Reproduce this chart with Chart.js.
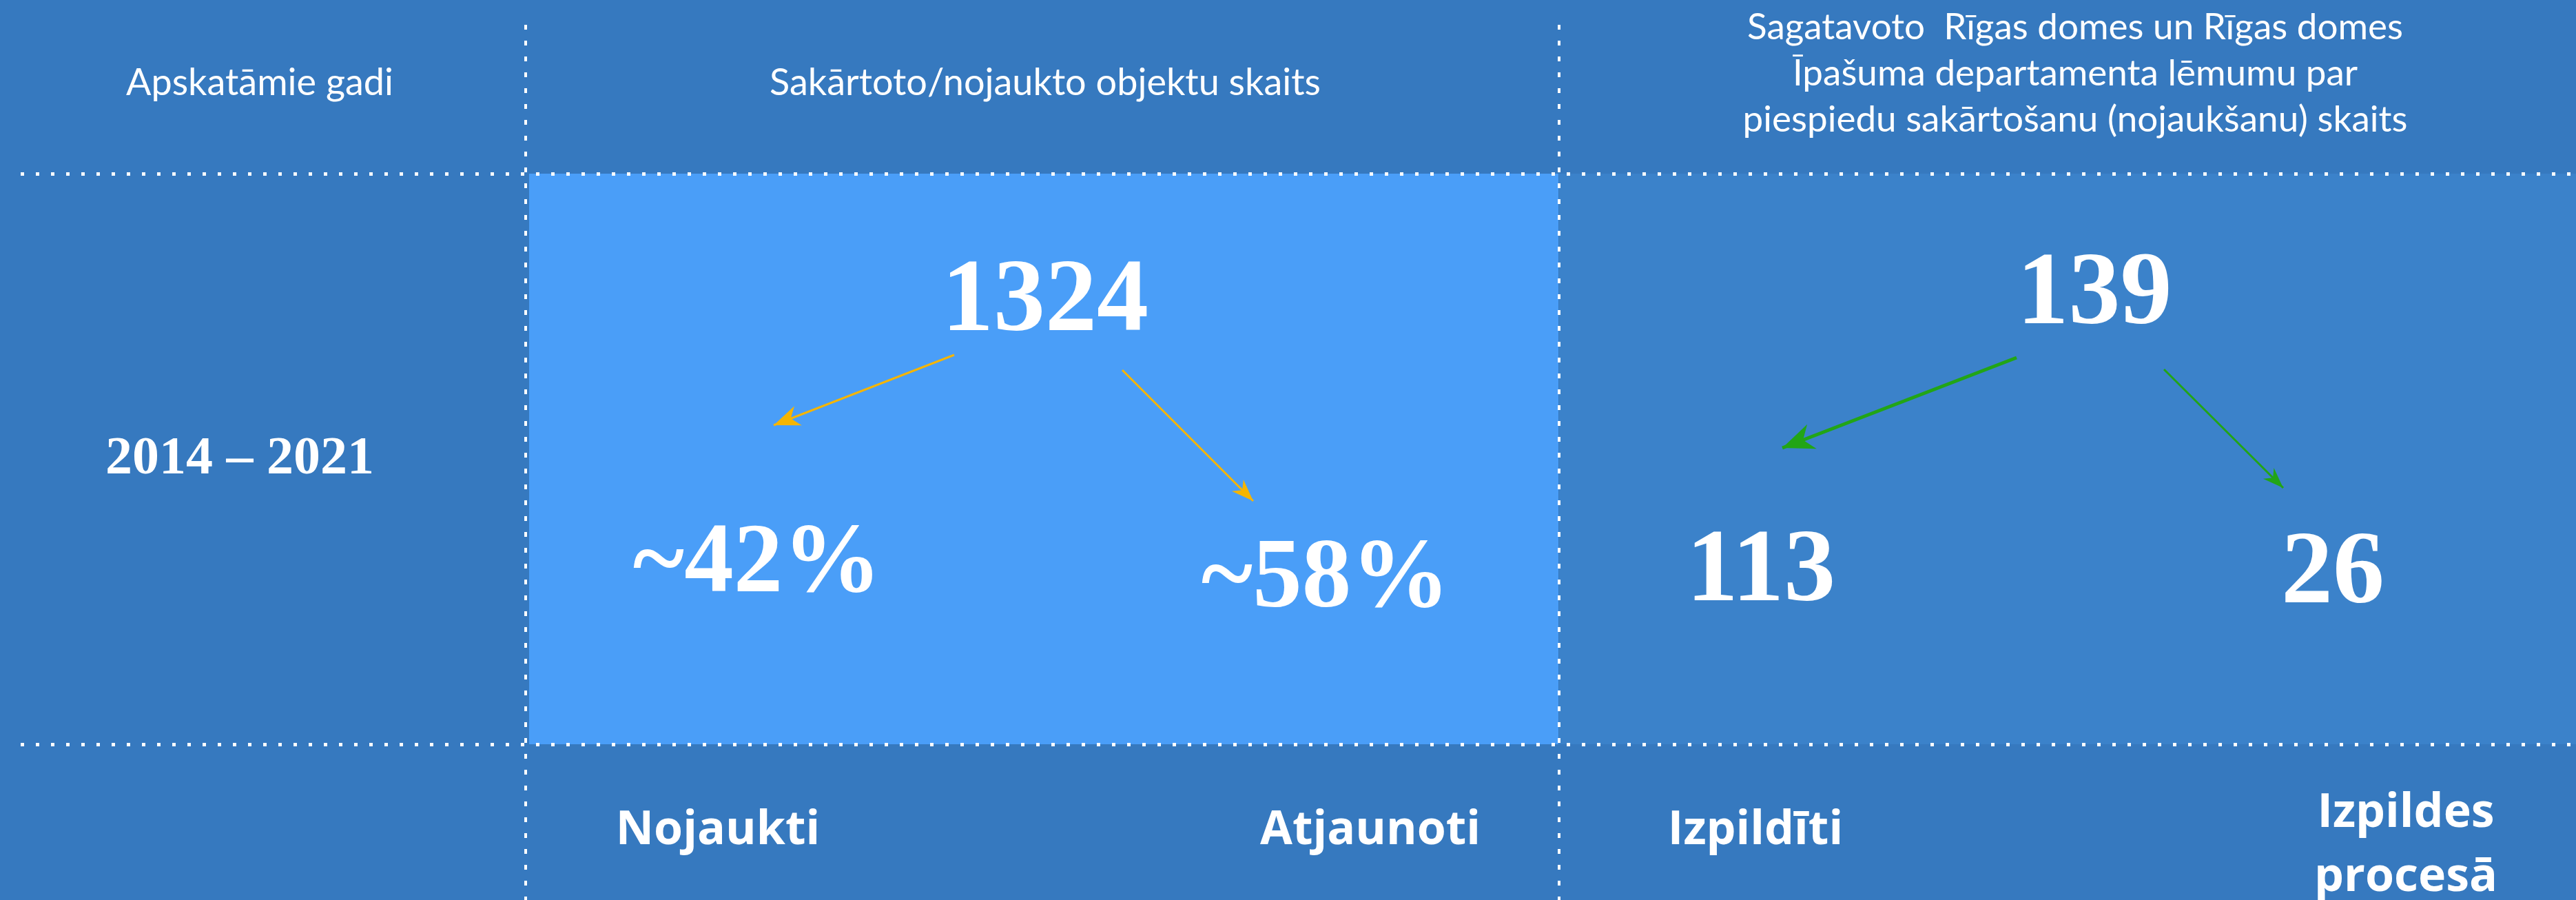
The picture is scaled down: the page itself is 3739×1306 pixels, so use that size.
<!DOCTYPE html>
<html>
<head>
<meta charset="utf-8">
<script src="https://cdn.jsdelivr.net/npm/chart.js@4.4.1/dist/chart.umd.min.js"></script>
<style>
    html, body { margin: 0; padding: 0; background: #3679BF; }
    canvas { display: block; }
</style>
</head>
<body>
<canvas id="infoChart" width="3739" height="1306"></canvas>
<script>
const headers = ['Apskatāmie gadi', 'Sakārtoto/nojaukto objektu skaits'];
const decisionHeader = [
    'Sagatavoto  Rīgas domes un Rīgas domes',
    'Īpašuma departamenta lēmumu par',
    'piespiedu sakārtošanu (nojaukšanu) skaits'
];
const period = '2014 – 2021';
const totals = [1324, 139];
const objectShares = [42, 58];
const decisionSplit = [113, 26];
const outcomeLabels = [['Nojaukti'], ['Atjaunoti'], ['Izpildīti'], ['Izpildes', 'procesā']];

// Layout (page units = pixels of the 3739x1306 picture)
const W = 3739, H = 1306;
const colDividers = [763, 2263];
const rowDividers = [252, 1080];
const headerPos = [[377, 138], [1517, 138]];
const decisionHeaderPos = [[3012, 57], [3012, 124], [3012, 191]];
const periodPos = [[348, 687]];
const totalPos = [[1517, 479], [3040, 469]];
const sharePos = [[1099, 858], [1924, 880]];
const splitPos = [[2556, 871], [3386, 874]];
const outcomePos = [[1042, 1225], [1989, 1225], [2548, 1225], [3492, 1200]];
const yellowArrows = [[1385, 515, 1123, 617], [1629, 537, 1819, 727]];
const greenArrows = [[2927, 519, 2587, 650], [3141, 536, 3314, 708]];

const sansFont = 'Lato, "Open Sans", sans-serif';
const boldSans = '"Open Sans", Lato, sans-serif';
const serifFont = '"Liberation Serif", "DejaVu Serif", serif';

function textSet(texts, pos, font, lineHeight) {
    return {
        type: 'scatter',
        data: pos.map(p => ({ x: p[0], y: p[1] })),
        texts: texts,
        textFont: font,
        lineHeight: lineHeight || 0,
        pointRadius: 0,
        isText: true
    };
}

function arrowSet(arrow, color, width, headLen, headWidth) {
    return {
        type: 'scatter',
        showLine: true,
        data: [{ x: arrow[0], y: arrow[1] }, { x: arrow[2], y: arrow[3] }],
        borderColor: color,
        backgroundColor: color,
        borderWidth: width,
        pointRadius: 0,
        headLen: headLen,
        headWidth: headWidth,
        isArrow: true
    };
}

const datasets = [
    arrowSet(yellowArrows[0], '#F6B500', 3, 38, 30),
    arrowSet(yellowArrows[1], '#F6B500', 3, 32, 24),
    arrowSet(greenArrows[0], '#22A516', 5, 46, 38),
    arrowSet(greenArrows[1], '#22A516', 3, 30, 22),
    textSet(headers.map(t => [t]), headerPos, '400 54px ' + sansFont),
    textSet(decisionHeader.map(t => [t]), decisionHeaderPos, '400 53px ' + sansFont),
    textSet([[period]], periodPos, 'bold 78px ' + serifFont),
    textSet(totals.map(v => [String(v)]), totalPos, 'bold 150px ' + serifFont),
    textSet(objectShares.map(v => ['~' + v + '%']), sharePos, 'bold 143px ' + serifFont),
    textSet(decisionSplit.map(v => [String(v)]), splitPos, 'bold 150px ' + serifFont),
    textSet(outcomeLabels, outcomePos, '700 68px ' + boldSans, 93)
];

const infoPlugin = {
    id: 'infoPlugin',
    beforeDraw(chart) {
        const ctx = chart.ctx;
        const x = chart.scales.x, y = chart.scales.y;
        ctx.save();
        ctx.fillStyle = '#3679BF';
        ctx.fillRect(0, 0, chart.width, chart.height);
        // right cell of the middle row
        ctx.fillStyle = '#3B82CA';
        ctx.fillRect(x.getPixelForValue(colDividers[1]), y.getPixelForValue(rowDividers[0]),
            x.getPixelForValue(W) - x.getPixelForValue(colDividers[1]),
            y.getPixelForValue(rowDividers[1]) - y.getPixelForValue(rowDividers[0]));
        // highlighted cell
        ctx.fillStyle = '#4A9EF8';
        ctx.fillRect(x.getPixelForValue(colDividers[0] + 5), y.getPixelForValue(rowDividers[0]),
            x.getPixelForValue(colDividers[1] - 1) - x.getPixelForValue(colDividers[0] + 5),
            y.getPixelForValue(rowDividers[1]) - y.getPixelForValue(rowDividers[0]));
        ctx.restore();
    },
    afterDatasetsDraw(chart) {
        const ctx = chart.ctx;
        ctx.save();
        chart.data.datasets.forEach((ds, i) => {
            const meta = chart.getDatasetMeta(i);
            if (ds.isArrow) {
                const a = meta.data[0], b = meta.data[1];
                const ang = Math.atan2(b.y - a.y, b.x - a.x);
                const bx = b.x - Math.cos(ang) * ds.headLen;
                const by = b.y - Math.sin(ang) * ds.headLen;
                const nx = -Math.sin(ang) * ds.headWidth / 2;
                const ny = Math.cos(ang) * ds.headWidth / 2;
                ctx.fillStyle = ds.borderColor;
                ctx.beginPath();
                ctx.moveTo(b.x, b.y);
                ctx.lineTo(bx + nx, by + ny);
                ctx.lineTo(b.x - Math.cos(ang) * ds.headLen * 0.7, b.y - Math.sin(ang) * ds.headLen * 0.7);
                ctx.lineTo(bx - nx, by - ny);
                ctx.closePath();
                ctx.fill();
            }
            if (ds.isText) {
                ctx.font = ds.textFont;
                ctx.fillStyle = '#FFFFFF';
                ctx.textAlign = 'center';
                ctx.textBaseline = 'alphabetic';
                meta.data.forEach((pt, j) => {
                    ds.texts[j].forEach((line, k) => {
                        ctx.fillText(line, pt.x, pt.y + k * ds.lineHeight);
                    });
                });
            }
        });
        ctx.restore();
    }
};

new Chart(document.getElementById('infoChart').getContext('2d'), {
    type: 'scatter',
    data: { datasets: datasets },
    options: {
        responsive: false,
        devicePixelRatio: 1,
        animation: false,
        events: [],
        layout: { padding: { left: 30, top: 36, right: 0, bottom: 0 } },
        plugins: { legend: { display: false }, tooltip: { enabled: false } },
        scales: {
            x: {
                type: 'linear',
                min: 30,
                max: W,
                afterBuildTicks: (scale) => { scale.ticks = colDividers.map(v => ({ value: v })); },
                ticks: { display: false },
                grid: { color: '#FFFFFF', lineWidth: 4, drawTicks: false },
                border: { display: false, dash: [7, 16] }
            },
            y: {
                type: 'linear',
                reverse: true,
                min: 36,
                max: H,
                afterBuildTicks: (scale) => { scale.ticks = rowDividers.map(v => ({ value: v })); },
                ticks: { display: false },
                grid: { color: '#FFFFFF', lineWidth: 5, drawTicks: false },
                border: { display: false, dash: [5, 17] }
            }
        }
    },
    plugins: [infoPlugin]
});
</script>
</body>
</html>
